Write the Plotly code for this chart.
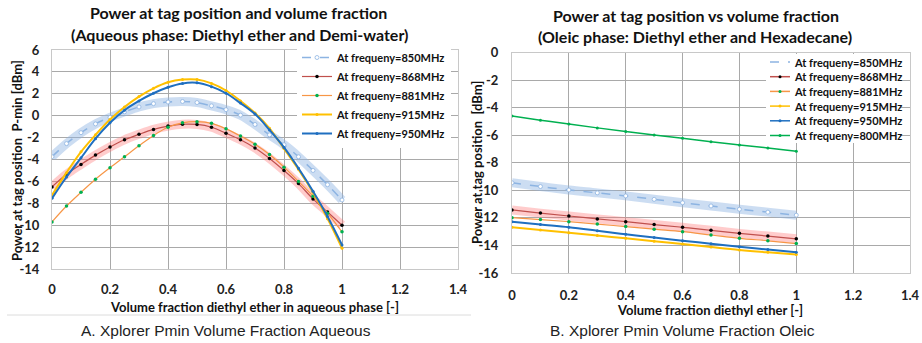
import plotly.graph_objects as go

# ---------------- data ----------------
x_aq = [0, 0.05, 0.1, 0.15, 0.2, 0.25, 0.3, 0.35, 0.4, 0.45, 0.5,
        0.55, 0.6, 0.65, 0.7, 0.75, 0.8, 0.85, 0.9, 0.95, 1.0]
aq_850 = [-3.75, -2.55, -1.55, -0.75, -0.15, 0.35, 0.8, 1.1, 1.25, 1.3, 1.2,
          0.9, 0.55, 0.05, -0.8, -1.75, -2.65, -3.75, -5.0, -6.3, -7.7]
aq_868 = [-6.5, -5.35, -4.45, -3.6, -2.85, -2.2, -1.7, -1.25, -0.95, -0.78, -0.8,
          -1.05, -1.6, -2.2, -2.95, -3.9, -5.0, -6.2, -7.6, -8.8, -10.0]
aq_881 = [-9.7, -8.25, -7.0, -5.8, -4.75, -3.75, -2.75, -1.8, -1.05, -0.65, -0.55,
          -0.7, -1.2, -1.85, -2.6, -3.55, -4.7, -6.0, -7.35, -8.9, -10.6]
aq_915 = [-7.25, -5.2, -3.3, -1.75, -0.35, 0.8, 1.75, 2.5, 3.05, 3.3, 3.3,
          2.95, 2.3, 1.35, 0.25, -1.15, -3.0, -4.9, -7.0, -9.4, -12.1]
aq_950 = [-7.55, -5.6, -3.85, -2.1, -0.65, 0.5, 1.35, 2.05, 2.6, 2.95, 3.0,
          2.65, 2.05, 1.15, 0.15, -1.3, -2.9, -4.8, -6.9, -9.2, -11.8]

x_ol = [0, 0.1, 0.2, 0.3, 0.4, 0.5, 0.6, 0.7, 0.8, 0.9, 1.0]
ol_850 = [-9.45, -9.72, -9.97, -10.18, -10.4, -10.65, -10.9, -11.13, -11.37, -11.58, -11.8]
ol_868 = [-11.42, -11.65, -11.86, -12.07, -12.27, -12.48, -12.68, -12.9, -13.12, -13.32, -13.52]
ol_881 = [-11.98, -12.12, -12.27, -12.45, -12.63, -12.82, -13.0, -13.24, -13.48, -13.66, -13.86]
ol_915 = [-12.68, -12.88, -13.07, -13.28, -13.48, -13.69, -13.9, -14.12, -14.33, -14.5, -14.65]
ol_950 = [-12.27, -12.48, -12.68, -12.93, -13.19, -13.42, -13.65, -13.87, -14.09, -14.3, -14.5]
ol_800 = [-4.6, -4.9, -5.18, -5.46, -5.72, -5.98, -6.22, -6.46, -6.7, -6.92, -7.15]

x_tickvals = [0, 0.2, 0.4, 0.6, 0.8, 1.0, 1.2, 1.4]
x_ticktext = ["0", "0.2", "0.4", "0.6", "0.8", "1", "1.2", "1.4"]
yA_tickvals = [6, 4, 2, 0, -2, -4, -6, -8, -10, -12, -14]
yA_ticktext = ["6", "4", "2", "0", "-2", "-4", "-6", "-8", "-10", "-12", "-14"]
yB_tickvals = [0, -2, -4, -6, -8, -10, -12, -14, -16]
yB_ticktext = ["0", "-2", "-4", "-6", "-8", "-10", "-12", "-14", "-16"]

names_aq = ["At frequeny=850MHz", "At frequeny=868MHz", "At frequeny=881MHz",
            "At frequeny=915MHz", "At frequeny=950MHz"]
names_ol = ["At frequeny=850MHz", "At frequeny=868MHz", "At frequeny=881MHz",
            "At frequeny=915MHz", "At frequeny=950MHz", "At frequeny=800MHz"]

# ---------------- helpers ----------------
W, H = 922, 343
def PX(x): return x / W
def PY(y): return 1 - y / H

FONT = "Lato, 'Open Sans', 'DejaVu Sans', sans-serif"
BLUE_LIGHT = "#8db4e2"
RED = "#c0504d"
ORANGE = "#f79646"
GREEN = "#00b050"
YELLOW = "#ffc000"
BLUE = "#1f6fc0"

fig = go.Figure()

def add_series(x, y, xa, ya, kind, name, showlegend):
    if kind == "850":
        fig.add_trace(go.Scatter(x=x, y=y, xaxis=xa, yaxis=ya, mode="lines",
                                 line=dict(color="rgba(141,180,226,0.45)", width=9, shape="spline"),
                                 hoverinfo="skip", showlegend=False))
        fig.add_trace(go.Scatter(x=x, y=y, xaxis=xa, yaxis=ya, mode="lines+markers", name=name,
                                 line=dict(color=BLUE_LIGHT, width=1.5, dash="dash", shape="spline"),
                                 marker=dict(color="white", size=4, line=dict(color=BLUE_LIGHT, width=0.8)),
                                 showlegend=showlegend))
    elif kind == "868":
        fig.add_trace(go.Scatter(x=x, y=y, xaxis=xa, yaxis=ya, mode="lines",
                                 line=dict(color="rgba(255,110,110,0.35)", width=9, shape="spline"),
                                 hoverinfo="skip", showlegend=False))
        fig.add_trace(go.Scatter(x=x, y=y, xaxis=xa, yaxis=ya, mode="lines+markers", name=name,
                                 line=dict(color=RED, width=1.2, shape="spline"),
                                 marker=dict(color="black", size=3.5),
                                 showlegend=showlegend))
    elif kind == "881":
        fig.add_trace(go.Scatter(x=x, y=y, xaxis=xa, yaxis=ya, mode="lines+markers", name=name,
                                 line=dict(color=ORANGE, width=1.2, shape="spline"),
                                 marker=dict(color=GREEN, size=3.5),
                                 showlegend=showlegend))
    elif kind == "915":
        fig.add_trace(go.Scatter(x=x, y=y, xaxis=xa, yaxis=ya, mode="lines+markers", name=name,
                                 line=dict(color=YELLOW, width=2, shape="spline"),
                                 marker=dict(color=YELLOW, size=3),
                                 showlegend=showlegend))
    elif kind == "950":
        fig.add_trace(go.Scatter(x=x, y=y, xaxis=xa, yaxis=ya, mode="lines+markers", name=name,
                                 line=dict(color=BLUE, width=2, shape="spline"),
                                 marker=dict(color=BLUE, size=3),
                                 showlegend=showlegend))
    elif kind == "800":
        fig.add_trace(go.Scatter(x=x, y=y, xaxis=xa, yaxis=ya, mode="lines+markers", name=name,
                                 line=dict(color=GREEN, width=1.5, shape="spline"),
                                 marker=dict(color=GREEN, size=3),
                                 showlegend=showlegend))

aq_series = [aq_850, aq_868, aq_881, aq_915, aq_950]
for kind, ys, nm in zip(["850", "868", "881", "915", "950"], aq_series, names_aq):
    add_series(x_aq, ys, "x", "y", kind, nm, True)

ol_series = [ol_850, ol_868, ol_881, ol_915, ol_950, ol_800]
for kind, ys, nm in zip(["850", "868", "881", "915", "950", "800"], ol_series, names_ol):
    add_series(x_ol, ys, "x2", "y2", kind, nm, False)

axis_common = dict(showgrid=True, gridcolor="#a9a9a9", gridwidth=1, zeroline=False,
                   showline=True, mirror=True, linecolor="#c8c8c8", linewidth=1, ticks="",
                   automargin=False,
                   tickfont=dict(family=FONT, size=13, color="#222", weight="bold"))

fig.update_layout(
    width=W, height=H, margin=dict(l=0, r=0, t=0, b=0, pad=0, autoexpand=False),
    paper_bgcolor="white", plot_bgcolor="white",
    xaxis=dict(domain=[PX(52), PX(458)], range=[0, 1.4], anchor="y",
               tickvals=x_tickvals, ticktext=x_ticktext, ticklabelstandoff=8, **axis_common),
    yaxis=dict(domain=[PY(269), PY(50)], range=[-14, 6], anchor="x",
               tickvals=yA_tickvals, ticktext=yA_ticktext, ticklabelstandoff=9, **axis_common),
    xaxis2=dict(domain=[PX(512), PX(910)], range=[0, 1.4], anchor="y2",
                tickvals=x_tickvals, ticktext=x_ticktext, ticklabelstandoff=10, **axis_common),
    yaxis2=dict(domain=[PY(273), PY(52.7)], range=[-16, 0], anchor="x2",
                tickvals=yB_tickvals, ticktext=yB_ticktext, ticklabelstandoff=10, **axis_common),
    legend=dict(x=PX(297), y=PY(43), xanchor="left", yanchor="top",
                bgcolor="white", borderwidth=0,
                font=dict(family=FONT, size=11, color="#111", weight="bold")),
    showlegend=True,
)

ann = []
def text(x, y, s, size, bold=True, family=FONT, color="#111", angle=0):
    ann.append(dict(x=PX(x), y=PY(y), xref="paper", yref="paper", showarrow=False,
                    text=s, textangle=angle,
                    xanchor="center", yanchor="middle",
                    font=dict(family=family, size=size, color=color,
                              weight="bold" if bold else "normal")))

# titles
text(238, 13, "Power at tag position and volume fraction", 16)
text(239, 34, "(Aqueous phase: Diethyl ether and Demi-water)", 16)
text(696, 15, "Power at tag position vs volume fraction", 16)
text(695, 37, "(Oleic phase: Diethyl ether and Hexadecane)", 16)
# axis titles
text(17, 161, "Power at tag position  P-min [dBm]", 13, angle=-90)
text(477, 163, "Power at tag position  [dBm]", 13, angle=-90)
text(254, 307, "Volume fraction diethyl ether in aqueous phase [-]", 13)
text(710, 310, "Volume fraction diethyl ether [-]", 13)
# captions
CAP = "'Liberation Sans', Arial, sans-serif"
text(226, 330, "A. Xplorer Pmin Volume Fraction Aqueous", 15.5, bold=False, family=CAP, color="#222")
text(682, 330, "B. Xplorer Pmin Volume Fraction Oleic", 15.5, bold=False, family=CAP, color="#222")

shapes = []
# separator line under panel A
shapes.append(dict(type="line", xref="paper", yref="paper", x0=PX(7), x1=PX(471), y0=PY(315), y1=PY(315),
                   line=dict(color="#dcdcdc", width=1)))
# manual legend for panel B
shapes.append(dict(type="rect", xref="paper", yref="paper", x0=PX(766), x1=PX(900), y0=PY(143), y1=PY(54),
                   fillcolor="white", line=dict(width=0), layer="above"))
leg_rows = [62, 76.7, 91.4, 106.1, 120.8, 135.5]
leg_line_col = [BLUE_LIGHT, RED, ORANGE, YELLOW, BLUE, GREEN]
leg_mark_col = [None, "black", GREEN, YELLOW, BLUE, GREEN]
leg_dash = ["dash", "solid", "solid", "solid", "solid", "solid"]
for yy, lc, mc, ds, nm in zip(leg_rows, leg_line_col, leg_mark_col, leg_dash, names_ol):
    shapes.append(dict(type="line", xref="paper", yref="paper", x0=PX(770), x1=PX(790), y0=PY(yy), y1=PY(yy),
                       line=dict(color=lc, width=1.5, dash=ds)))
    if mc:
        shapes.append(dict(type="circle", xref="paper", yref="paper", x0=PX(778.5), x1=PX(781.5),
                           y0=PY(yy + 1.5), y1=PY(yy - 1.5), fillcolor=mc, line=dict(width=0)))
    ann.append(dict(x=PX(792), y=PY(yy), xref="paper", yref="paper", showarrow=False,
                    text=nm, xanchor="left", yanchor="middle",
                    font=dict(family=FONT, size=11, color="#111", weight="bold")))

fig.update_layout(annotations=ann, shapes=shapes)
fig.write_html("out.html")
